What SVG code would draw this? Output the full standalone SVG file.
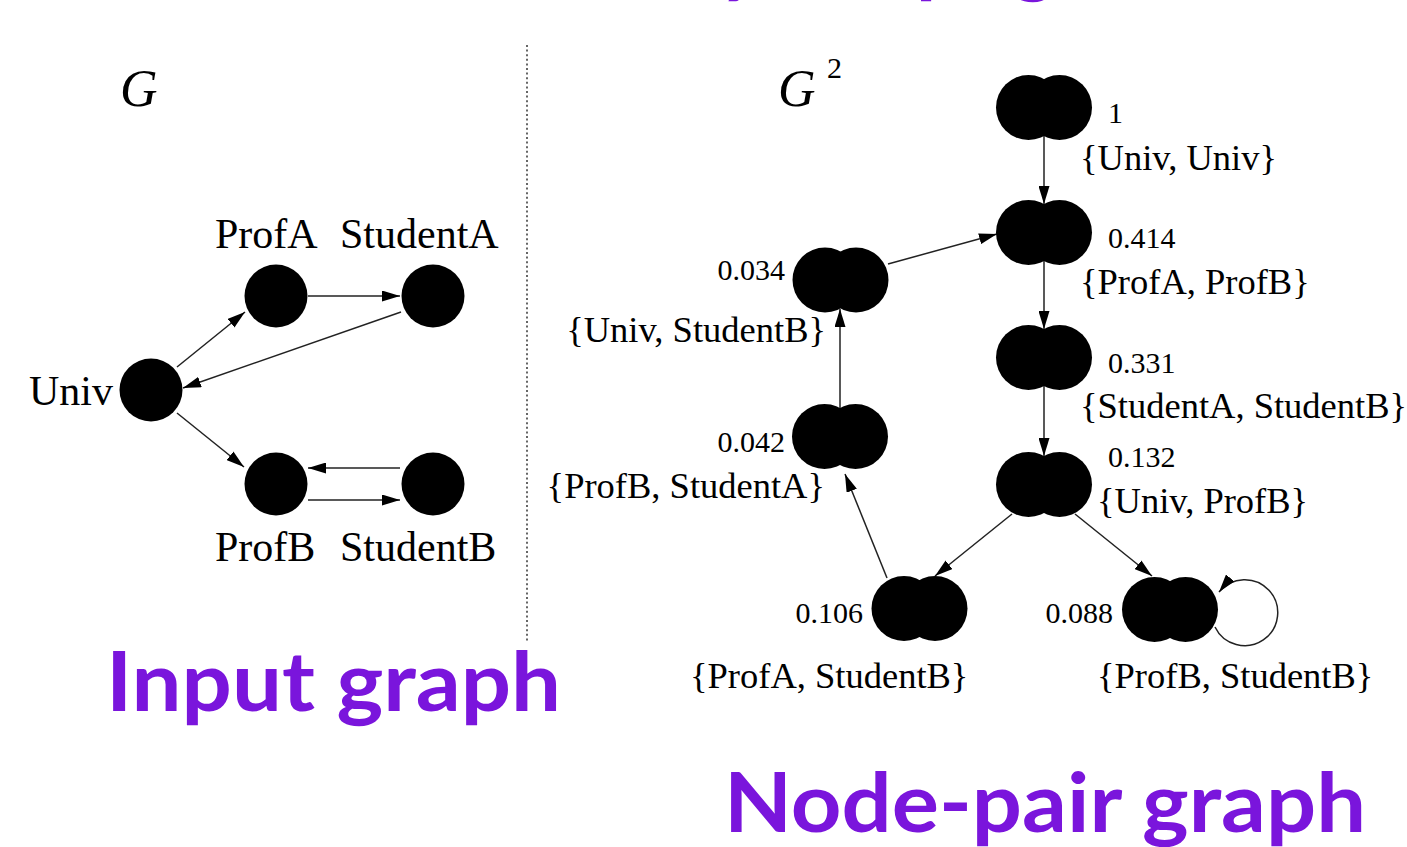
<svg xmlns="http://www.w3.org/2000/svg" xmlns:xlink="http://www.w3.org/1999/xlink" width="1407" height="847" viewBox="0 0 1407 847">
  <style>
    .serif { font-family: "Liberation Serif", "Times New Roman", serif; fill: #000; }
    .lbl { font-size: 42px; }
    .pair-lbl { font-size: 36.5px; }
    .score { font-size: 30px; }
    .title { font-family: Lato, "Open Sans", sans-serif; font-weight: 700; font-size: 82px; fill: #7A15DC; }
    .edge { stroke: #222; stroke-width: 1.5; fill: none; marker-end: url(#arrow); }
    .node { fill: #000; }
  </style>
  <defs>
    <marker id="arrow" markerUnits="userSpaceOnUse" markerWidth="18" markerHeight="11" refX="18" refY="5.5" orient="auto">
      <path d="M0,0 L18,5.5 L0,11 Z" fill="#000"/>
    </marker>
    <!-- node-pair glyph: two overlapping discs -->
    <g id="pair">
      <circle cx="-15.5" cy="0" r="32.5"/>
      <circle cx="15.5" cy="0" r="32.5"/>
    </g>
  </defs>

  <rect width="1407" height="847" fill="#fff"/>

  <!-- heading above, clipped by the top edge -->
  <g id="heading-cut" class="title">
    <text x="719" y="-13">y</text>
    <text x="916" y="-13">p</text>
    <text x="1012" y="-13">g</text>
  </g>

  <!-- divider -->
  <line x1="527" y1="45" x2="527" y2="643" stroke="#666" stroke-width="2" stroke-dasharray="2 2.6"/>

  <!-- ===== input graph G ===== -->
  <text class="serif" x="120" y="106" font-size="52" font-style="italic">G</text>

  <g id="g-edges">
    <path class="edge" d="M177,367 L245,312"/>
    <path class="edge" d="M308,296 L400,296"/>
    <path class="edge" d="M401,312 L183,388"/>
    <path class="edge" d="M177,413 L244,467"/>
    <path class="edge" d="M400,468 L308,468"/>
    <path class="edge" d="M308,500 L400,500"/>
  </g>

  <g id="univ">
    <circle class="node" cx="151" cy="390" r="31.5"/>
    <text class="serif lbl" x="113" y="405" text-anchor="end">Univ</text>
  </g>
  <g id="profA">
    <circle class="node" cx="276" cy="296" r="31.5"/>
    <text class="serif lbl" x="215" y="248">ProfA</text>
  </g>
  <g id="studentA">
    <circle class="node" cx="433" cy="296" r="31.5"/>
    <text class="serif lbl" x="340" y="248">StudentA</text>
  </g>
  <g id="profB">
    <circle class="node" cx="276" cy="484" r="31.5"/>
    <text class="serif lbl" x="215" y="561">ProfB</text>
  </g>
  <g id="studentB">
    <circle class="node" cx="433" cy="484" r="31.5"/>
    <text class="serif lbl" x="340" y="561">StudentB</text>
  </g>

  <text class="title" x="106" y="711" textLength="455" lengthAdjust="spacingAndGlyphs">Input graph</text>

  <!-- ===== node-pair graph G^2 ===== -->
  <text class="serif" x="778" y="106" font-size="52" font-style="italic">G</text>
  <text class="serif" x="827" y="78" font-size="30">2</text>

  <g id="g2-edges">
    <path class="edge" d="M1044,136 L1044,204"/>
    <path class="edge" d="M1044,261 L1044,329"/>
    <path class="edge" d="M1044,386 L1044,456"/>
    <path class="edge" d="M888,264 L997,234"/>
    <path class="edge" d="M840,408 L840,309"/>
    <path class="edge" d="M887,578 L845,474"/>
    <path class="edge" d="M1012,514 L935,576"/>
    <path class="edge" d="M1075,514 L1152,576"/>
    <path class="edge" d="M1215,627 A33,33 0 1 0 1219,592"/>
  </g>

  <g id="pair-univ-univ">
    <use xlink:href="#pair" x="1044" y="107.5"/>
    <text class="serif score" x="1108" y="123">1</text>
    <text class="serif pair-lbl" x="1080" y="170">{Univ, Univ}</text>
  </g>
  <g id="pair-profA-profB">
    <use xlink:href="#pair" x="1044" y="232.5"/>
    <text class="serif score" x="1108" y="248">0.414</text>
    <text class="serif pair-lbl" x="1080" y="294">{ProfA, ProfB}</text>
  </g>
  <g id="pair-studentA-studentB">
    <use xlink:href="#pair" x="1044" y="357.5"/>
    <text class="serif score" x="1108" y="373">0.331</text>
    <text class="serif pair-lbl" x="1080" y="418">{StudentA, StudentB}</text>
  </g>
  <g id="pair-univ-profB">
    <use xlink:href="#pair" x="1044" y="484.5"/>
    <text class="serif score" x="1108" y="467">0.132</text>
    <text class="serif pair-lbl" x="1097" y="513">{Univ, ProfB}</text>
  </g>
  <g id="pair-profB-studentB">
    <use xlink:href="#pair" x="1170" y="609.5"/>
    <text class="serif score" x="1113" y="623" text-anchor="end">0.088</text>
    <text class="serif pair-lbl" x="1097" y="688">{ProfB, StudentB}</text>
  </g>
  <g id="pair-univ-studentB">
    <use xlink:href="#pair" x="840.5" y="280"/>
    <text class="serif score" x="785" y="280" text-anchor="end">0.034</text>
    <text class="serif pair-lbl" x="826" y="342" text-anchor="end">{Univ, StudentB}</text>
  </g>
  <g id="pair-profB-studentA">
    <use xlink:href="#pair" x="840" y="436.5"/>
    <text class="serif score" x="785" y="452" text-anchor="end">0.042</text>
    <text class="serif pair-lbl" x="825" y="498" text-anchor="end">{ProfB, StudentA}</text>
  </g>
  <g id="pair-profA-studentB">
    <use xlink:href="#pair" x="919.5" y="608.5"/>
    <text class="serif score" x="863" y="623" text-anchor="end">0.106</text>
    <text class="serif pair-lbl" x="690" y="688">{ProfA, StudentB}</text>
  </g>

  <text class="title" x="724" y="832" textLength="642" lengthAdjust="spacingAndGlyphs">Node-pair graph</text>
</svg>
